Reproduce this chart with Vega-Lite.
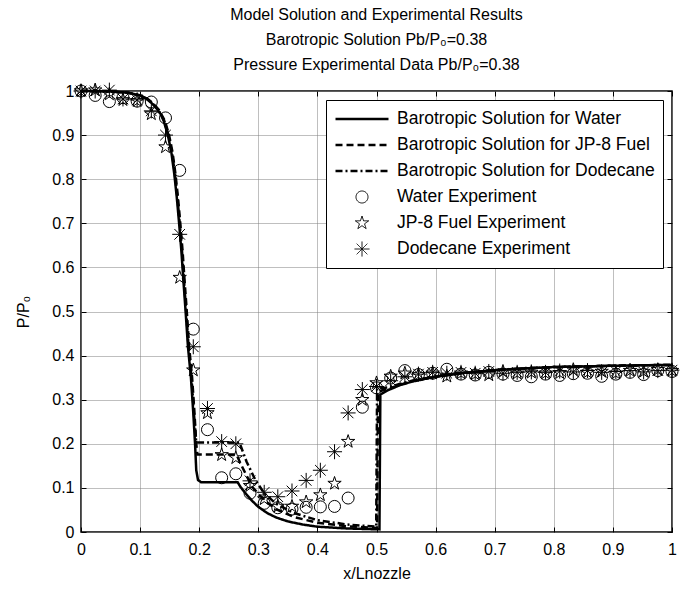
{
  "$schema": "https://vega.github.io/schema/vega-lite/v6.json",
  "width": 591,
  "height": 441,
  "autosize": {"type": "none"},
  "padding": {"left": 81, "top": 91, "right": 14, "bottom": 58},
  "background": "white",
  "title": {
    "text": ["Model Solution and Experimental Results", "Barotropic Solution Pb/P₀=0.38", "Pressure Experimental Data Pb/P₀=0.38"],
    "font": "Liberation Sans",
    "fontSize": 16,
    "fontWeight": "normal",
    "color": "black",
    "lineHeight": 25,
    "offset": 8,
    "anchor": "middle"
  },
  "datasets": {
    "model": [
      {"series": "Barotropic Solution for Water", "x": 0, "p": 1.0},
      {"series": "Barotropic Solution for Water", "x": 0.05, "p": 0.999},
      {"series": "Barotropic Solution for Water", "x": 0.08, "p": 0.996},
      {"series": "Barotropic Solution for Water", "x": 0.1, "p": 0.99},
      {"series": "Barotropic Solution for Water", "x": 0.11, "p": 0.983},
      {"series": "Barotropic Solution for Water", "x": 0.12, "p": 0.972},
      {"series": "Barotropic Solution for Water", "x": 0.13, "p": 0.957},
      {"series": "Barotropic Solution for Water", "x": 0.135, "p": 0.947},
      {"series": "Barotropic Solution for Water", "x": 0.14, "p": 0.932},
      {"series": "Barotropic Solution for Water", "x": 0.147, "p": 0.9},
      {"series": "Barotropic Solution for Water", "x": 0.153, "p": 0.86},
      {"series": "Barotropic Solution for Water", "x": 0.158, "p": 0.81},
      {"series": "Barotropic Solution for Water", "x": 0.162, "p": 0.76},
      {"series": "Barotropic Solution for Water", "x": 0.166, "p": 0.7},
      {"series": "Barotropic Solution for Water", "x": 0.17, "p": 0.635},
      {"series": "Barotropic Solution for Water", "x": 0.173, "p": 0.575},
      {"series": "Barotropic Solution for Water", "x": 0.177, "p": 0.5},
      {"series": "Barotropic Solution for Water", "x": 0.181, "p": 0.42},
      {"series": "Barotropic Solution for Water", "x": 0.186, "p": 0.35},
      {"series": "Barotropic Solution for Water", "x": 0.19, "p": 0.27},
      {"series": "Barotropic Solution for Water", "x": 0.193, "p": 0.2},
      {"series": "Barotropic Solution for Water", "x": 0.195, "p": 0.14},
      {"series": "Barotropic Solution for Water", "x": 0.198, "p": 0.118},
      {"series": "Barotropic Solution for Water", "x": 0.203, "p": 0.113},
      {"series": "Barotropic Solution for Water", "x": 0.265, "p": 0.113},
      {"series": "Barotropic Solution for Water", "x": 0.27, "p": 0.102},
      {"series": "Barotropic Solution for Water", "x": 0.28, "p": 0.085},
      {"series": "Barotropic Solution for Water", "x": 0.29, "p": 0.07},
      {"series": "Barotropic Solution for Water", "x": 0.3, "p": 0.057},
      {"series": "Barotropic Solution for Water", "x": 0.315, "p": 0.043},
      {"series": "Barotropic Solution for Water", "x": 0.33, "p": 0.033},
      {"series": "Barotropic Solution for Water", "x": 0.35, "p": 0.024},
      {"series": "Barotropic Solution for Water", "x": 0.375, "p": 0.017},
      {"series": "Barotropic Solution for Water", "x": 0.4, "p": 0.012},
      {"series": "Barotropic Solution for Water", "x": 0.45, "p": 0.008},
      {"series": "Barotropic Solution for Water", "x": 0.505, "p": 0.006},
      {"series": "Barotropic Solution for Water", "x": 0.5065, "p": 0.312},
      {"series": "Barotropic Solution for Water", "x": 0.52, "p": 0.322},
      {"series": "Barotropic Solution for Water", "x": 0.54, "p": 0.333},
      {"series": "Barotropic Solution for Water", "x": 0.56, "p": 0.341},
      {"series": "Barotropic Solution for Water", "x": 0.6, "p": 0.352},
      {"series": "Barotropic Solution for Water", "x": 0.65, "p": 0.361},
      {"series": "Barotropic Solution for Water", "x": 0.7, "p": 0.367},
      {"series": "Barotropic Solution for Water", "x": 0.75, "p": 0.371},
      {"series": "Barotropic Solution for Water", "x": 0.8, "p": 0.374},
      {"series": "Barotropic Solution for Water", "x": 0.9, "p": 0.377},
      {"series": "Barotropic Solution for Water", "x": 1.0, "p": 0.379},

      {"series": "Barotropic Solution for JP-8 Fuel", "x": 0, "p": 1.0},
      {"series": "Barotropic Solution for JP-8 Fuel", "x": 0.05, "p": 0.999},
      {"series": "Barotropic Solution for JP-8 Fuel", "x": 0.08, "p": 0.996},
      {"series": "Barotropic Solution for JP-8 Fuel", "x": 0.1, "p": 0.99},
      {"series": "Barotropic Solution for JP-8 Fuel", "x": 0.112, "p": 0.983},
      {"series": "Barotropic Solution for JP-8 Fuel", "x": 0.122, "p": 0.972},
      {"series": "Barotropic Solution for JP-8 Fuel", "x": 0.132, "p": 0.957},
      {"series": "Barotropic Solution for JP-8 Fuel", "x": 0.142, "p": 0.932},
      {"series": "Barotropic Solution for JP-8 Fuel", "x": 0.149, "p": 0.9},
      {"series": "Barotropic Solution for JP-8 Fuel", "x": 0.155, "p": 0.86},
      {"series": "Barotropic Solution for JP-8 Fuel", "x": 0.16, "p": 0.81},
      {"series": "Barotropic Solution for JP-8 Fuel", "x": 0.164, "p": 0.76},
      {"series": "Barotropic Solution for JP-8 Fuel", "x": 0.168, "p": 0.7},
      {"series": "Barotropic Solution for JP-8 Fuel", "x": 0.172, "p": 0.635},
      {"series": "Barotropic Solution for JP-8 Fuel", "x": 0.175, "p": 0.575},
      {"series": "Barotropic Solution for JP-8 Fuel", "x": 0.179, "p": 0.5},
      {"series": "Barotropic Solution for JP-8 Fuel", "x": 0.183, "p": 0.42},
      {"series": "Barotropic Solution for JP-8 Fuel", "x": 0.188, "p": 0.35},
      {"series": "Barotropic Solution for JP-8 Fuel", "x": 0.192, "p": 0.27},
      {"series": "Barotropic Solution for JP-8 Fuel", "x": 0.195, "p": 0.2},
      {"series": "Barotropic Solution for JP-8 Fuel", "x": 0.197, "p": 0.176},
      {"series": "Barotropic Solution for JP-8 Fuel", "x": 0.263, "p": 0.176},
      {"series": "Barotropic Solution for JP-8 Fuel", "x": 0.27, "p": 0.155},
      {"series": "Barotropic Solution for JP-8 Fuel", "x": 0.28, "p": 0.128},
      {"series": "Barotropic Solution for JP-8 Fuel", "x": 0.29, "p": 0.102},
      {"series": "Barotropic Solution for JP-8 Fuel", "x": 0.31, "p": 0.072},
      {"series": "Barotropic Solution for JP-8 Fuel", "x": 0.33, "p": 0.052},
      {"series": "Barotropic Solution for JP-8 Fuel", "x": 0.36, "p": 0.034},
      {"series": "Barotropic Solution for JP-8 Fuel", "x": 0.4, "p": 0.021},
      {"series": "Barotropic Solution for JP-8 Fuel", "x": 0.45, "p": 0.013},
      {"series": "Barotropic Solution for JP-8 Fuel", "x": 0.501, "p": 0.009},
      {"series": "Barotropic Solution for JP-8 Fuel", "x": 0.5025, "p": 0.318},
      {"series": "Barotropic Solution for JP-8 Fuel", "x": 0.52, "p": 0.325},
      {"series": "Barotropic Solution for JP-8 Fuel", "x": 0.54, "p": 0.334},
      {"series": "Barotropic Solution for JP-8 Fuel", "x": 0.56, "p": 0.342},
      {"series": "Barotropic Solution for JP-8 Fuel", "x": 0.6, "p": 0.352},
      {"series": "Barotropic Solution for JP-8 Fuel", "x": 0.65, "p": 0.361},
      {"series": "Barotropic Solution for JP-8 Fuel", "x": 0.7, "p": 0.367},
      {"series": "Barotropic Solution for JP-8 Fuel", "x": 0.75, "p": 0.371},
      {"series": "Barotropic Solution for JP-8 Fuel", "x": 0.8, "p": 0.374},
      {"series": "Barotropic Solution for JP-8 Fuel", "x": 0.9, "p": 0.377},
      {"series": "Barotropic Solution for JP-8 Fuel", "x": 1.0, "p": 0.379},

      {"series": "Barotropic Solution for Dodecane", "x": 0, "p": 1.0},
      {"series": "Barotropic Solution for Dodecane", "x": 0.05, "p": 0.999},
      {"series": "Barotropic Solution for Dodecane", "x": 0.08, "p": 0.996},
      {"series": "Barotropic Solution for Dodecane", "x": 0.1, "p": 0.99},
      {"series": "Barotropic Solution for Dodecane", "x": 0.111, "p": 0.983},
      {"series": "Barotropic Solution for Dodecane", "x": 0.121, "p": 0.972},
      {"series": "Barotropic Solution for Dodecane", "x": 0.131, "p": 0.957},
      {"series": "Barotropic Solution for Dodecane", "x": 0.141, "p": 0.932},
      {"series": "Barotropic Solution for Dodecane", "x": 0.148, "p": 0.9},
      {"series": "Barotropic Solution for Dodecane", "x": 0.154, "p": 0.86},
      {"series": "Barotropic Solution for Dodecane", "x": 0.159, "p": 0.81},
      {"series": "Barotropic Solution for Dodecane", "x": 0.163, "p": 0.76},
      {"series": "Barotropic Solution for Dodecane", "x": 0.167, "p": 0.7},
      {"series": "Barotropic Solution for Dodecane", "x": 0.171, "p": 0.635},
      {"series": "Barotropic Solution for Dodecane", "x": 0.174, "p": 0.575},
      {"series": "Barotropic Solution for Dodecane", "x": 0.178, "p": 0.5},
      {"series": "Barotropic Solution for Dodecane", "x": 0.182, "p": 0.42},
      {"series": "Barotropic Solution for Dodecane", "x": 0.187, "p": 0.35},
      {"series": "Barotropic Solution for Dodecane", "x": 0.191, "p": 0.27},
      {"series": "Barotropic Solution for Dodecane", "x": 0.195, "p": 0.203},
      {"series": "Barotropic Solution for Dodecane", "x": 0.268, "p": 0.203},
      {"series": "Barotropic Solution for Dodecane", "x": 0.28, "p": 0.16},
      {"series": "Barotropic Solution for Dodecane", "x": 0.295, "p": 0.118},
      {"series": "Barotropic Solution for Dodecane", "x": 0.31, "p": 0.088},
      {"series": "Barotropic Solution for Dodecane", "x": 0.33, "p": 0.064},
      {"series": "Barotropic Solution for Dodecane", "x": 0.36, "p": 0.043},
      {"series": "Barotropic Solution for Dodecane", "x": 0.4, "p": 0.027},
      {"series": "Barotropic Solution for Dodecane", "x": 0.45, "p": 0.017},
      {"series": "Barotropic Solution for Dodecane", "x": 0.4995, "p": 0.012},
      {"series": "Barotropic Solution for Dodecane", "x": 0.501, "p": 0.325},
      {"series": "Barotropic Solution for Dodecane", "x": 0.52, "p": 0.328},
      {"series": "Barotropic Solution for Dodecane", "x": 0.54, "p": 0.336},
      {"series": "Barotropic Solution for Dodecane", "x": 0.56, "p": 0.343},
      {"series": "Barotropic Solution for Dodecane", "x": 0.6, "p": 0.353},
      {"series": "Barotropic Solution for Dodecane", "x": 0.65, "p": 0.361},
      {"series": "Barotropic Solution for Dodecane", "x": 0.7, "p": 0.367},
      {"series": "Barotropic Solution for Dodecane", "x": 0.75, "p": 0.371},
      {"series": "Barotropic Solution for Dodecane", "x": 0.8, "p": 0.374},
      {"series": "Barotropic Solution for Dodecane", "x": 0.9, "p": 0.377},
      {"series": "Barotropic Solution for Dodecane", "x": 1.0, "p": 0.379}
    ],
    "experiment": [
      {"series": "Water Experiment", "x": 0, "p": 1.0},
      {"series": "Water Experiment", "x": 0.024, "p": 0.99},
      {"series": "Water Experiment", "x": 0.048, "p": 0.976},
      {"series": "Water Experiment", "x": 0.071, "p": 0.985},
      {"series": "Water Experiment", "x": 0.095, "p": 0.977},
      {"series": "Water Experiment", "x": 0.119, "p": 0.975},
      {"series": "Water Experiment", "x": 0.143, "p": 0.939},
      {"series": "Water Experiment", "x": 0.167, "p": 0.82},
      {"series": "Water Experiment", "x": 0.19, "p": 0.46},
      {"series": "Water Experiment", "x": 0.214, "p": 0.232},
      {"series": "Water Experiment", "x": 0.238, "p": 0.123},
      {"series": "Water Experiment", "x": 0.262, "p": 0.132},
      {"series": "Water Experiment", "x": 0.286, "p": 0.088},
      {"series": "Water Experiment", "x": 0.31, "p": 0.065},
      {"series": "Water Experiment", "x": 0.333, "p": 0.055},
      {"series": "Water Experiment", "x": 0.357, "p": 0.052},
      {"series": "Water Experiment", "x": 0.381, "p": 0.056},
      {"series": "Water Experiment", "x": 0.405, "p": 0.057},
      {"series": "Water Experiment", "x": 0.429, "p": 0.058},
      {"series": "Water Experiment", "x": 0.452, "p": 0.077},
      {"series": "Water Experiment", "x": 0.476, "p": 0.283},
      {"series": "Water Experiment", "x": 0.5, "p": 0.327},
      {"series": "Water Experiment", "x": 0.524, "p": 0.349},
      {"series": "Water Experiment", "x": 0.548, "p": 0.366},
      {"series": "Water Experiment", "x": 0.571, "p": 0.357},
      {"series": "Water Experiment", "x": 0.595, "p": 0.36},
      {"series": "Water Experiment", "x": 0.619, "p": 0.369},
      {"series": "Water Experiment", "x": 0.643, "p": 0.358},
      {"series": "Water Experiment", "x": 0.667, "p": 0.356},
      {"series": "Water Experiment", "x": 0.69, "p": 0.362},
      {"series": "Water Experiment", "x": 0.714, "p": 0.358},
      {"series": "Water Experiment", "x": 0.738, "p": 0.355},
      {"series": "Water Experiment", "x": 0.762, "p": 0.352},
      {"series": "Water Experiment", "x": 0.786, "p": 0.358},
      {"series": "Water Experiment", "x": 0.81, "p": 0.355},
      {"series": "Water Experiment", "x": 0.833, "p": 0.359},
      {"series": "Water Experiment", "x": 0.857, "p": 0.36},
      {"series": "Water Experiment", "x": 0.881, "p": 0.353},
      {"series": "Water Experiment", "x": 0.905, "p": 0.358},
      {"series": "Water Experiment", "x": 0.929, "p": 0.362},
      {"series": "Water Experiment", "x": 0.952, "p": 0.357},
      {"series": "Water Experiment", "x": 0.976, "p": 0.366},
      {"series": "Water Experiment", "x": 1.0, "p": 0.364},

      {"series": "JP-8 Fuel Experiment", "x": 0, "p": 1.0},
      {"series": "JP-8 Fuel Experiment", "x": 0.024, "p": 1.002},
      {"series": "JP-8 Fuel Experiment", "x": 0.048, "p": 0.993},
      {"series": "JP-8 Fuel Experiment", "x": 0.071, "p": 0.98},
      {"series": "JP-8 Fuel Experiment", "x": 0.095, "p": 0.978},
      {"series": "JP-8 Fuel Experiment", "x": 0.119, "p": 0.948},
      {"series": "JP-8 Fuel Experiment", "x": 0.143, "p": 0.873},
      {"series": "JP-8 Fuel Experiment", "x": 0.167, "p": 0.577},
      {"series": "JP-8 Fuel Experiment", "x": 0.19, "p": 0.367},
      {"series": "JP-8 Fuel Experiment", "x": 0.214, "p": 0.27},
      {"series": "JP-8 Fuel Experiment", "x": 0.238, "p": 0.175},
      {"series": "JP-8 Fuel Experiment", "x": 0.262, "p": 0.168},
      {"series": "JP-8 Fuel Experiment", "x": 0.286, "p": 0.105},
      {"series": "JP-8 Fuel Experiment", "x": 0.31, "p": 0.075},
      {"series": "JP-8 Fuel Experiment", "x": 0.333, "p": 0.058},
      {"series": "JP-8 Fuel Experiment", "x": 0.357, "p": 0.058},
      {"series": "JP-8 Fuel Experiment", "x": 0.381, "p": 0.068},
      {"series": "JP-8 Fuel Experiment", "x": 0.405, "p": 0.084},
      {"series": "JP-8 Fuel Experiment", "x": 0.429, "p": 0.11},
      {"series": "JP-8 Fuel Experiment", "x": 0.452, "p": 0.205},
      {"series": "JP-8 Fuel Experiment", "x": 0.476, "p": 0.3},
      {"series": "JP-8 Fuel Experiment", "x": 0.5, "p": 0.338},
      {"series": "JP-8 Fuel Experiment", "x": 0.524, "p": 0.353},
      {"series": "JP-8 Fuel Experiment", "x": 0.548, "p": 0.36},
      {"series": "JP-8 Fuel Experiment", "x": 0.571, "p": 0.357},
      {"series": "JP-8 Fuel Experiment", "x": 0.595, "p": 0.36},
      {"series": "JP-8 Fuel Experiment", "x": 0.619, "p": 0.353},
      {"series": "JP-8 Fuel Experiment", "x": 0.643, "p": 0.36},
      {"series": "JP-8 Fuel Experiment", "x": 0.667, "p": 0.358},
      {"series": "JP-8 Fuel Experiment", "x": 0.69, "p": 0.356},
      {"series": "JP-8 Fuel Experiment", "x": 0.714, "p": 0.364},
      {"series": "JP-8 Fuel Experiment", "x": 0.738, "p": 0.36},
      {"series": "JP-8 Fuel Experiment", "x": 0.762, "p": 0.362},
      {"series": "JP-8 Fuel Experiment", "x": 0.786, "p": 0.36},
      {"series": "JP-8 Fuel Experiment", "x": 0.81, "p": 0.361},
      {"series": "JP-8 Fuel Experiment", "x": 0.833, "p": 0.368},
      {"series": "JP-8 Fuel Experiment", "x": 0.857, "p": 0.362},
      {"series": "JP-8 Fuel Experiment", "x": 0.881, "p": 0.364},
      {"series": "JP-8 Fuel Experiment", "x": 0.905, "p": 0.36},
      {"series": "JP-8 Fuel Experiment", "x": 0.929, "p": 0.366},
      {"series": "JP-8 Fuel Experiment", "x": 0.952, "p": 0.364},
      {"series": "JP-8 Fuel Experiment", "x": 0.976, "p": 0.368},
      {"series": "JP-8 Fuel Experiment", "x": 1.0, "p": 0.366},

      {"series": "Dodecane Experiment", "x": 0, "p": 1.0},
      {"series": "Dodecane Experiment", "x": 0.024, "p": 1.0},
      {"series": "Dodecane Experiment", "x": 0.048, "p": 1.002},
      {"series": "Dodecane Experiment", "x": 0.071, "p": 0.982},
      {"series": "Dodecane Experiment", "x": 0.095, "p": 0.98},
      {"series": "Dodecane Experiment", "x": 0.119, "p": 0.955},
      {"series": "Dodecane Experiment", "x": 0.143, "p": 0.9},
      {"series": "Dodecane Experiment", "x": 0.167, "p": 0.675},
      {"series": "Dodecane Experiment", "x": 0.19, "p": 0.42},
      {"series": "Dodecane Experiment", "x": 0.214, "p": 0.28},
      {"series": "Dodecane Experiment", "x": 0.238, "p": 0.205},
      {"series": "Dodecane Experiment", "x": 0.262, "p": 0.2},
      {"series": "Dodecane Experiment", "x": 0.286, "p": 0.116},
      {"series": "Dodecane Experiment", "x": 0.31, "p": 0.09},
      {"series": "Dodecane Experiment", "x": 0.333, "p": 0.08},
      {"series": "Dodecane Experiment", "x": 0.357, "p": 0.093},
      {"series": "Dodecane Experiment", "x": 0.381, "p": 0.117},
      {"series": "Dodecane Experiment", "x": 0.405, "p": 0.14},
      {"series": "Dodecane Experiment", "x": 0.429, "p": 0.182},
      {"series": "Dodecane Experiment", "x": 0.452, "p": 0.27},
      {"series": "Dodecane Experiment", "x": 0.476, "p": 0.323},
      {"series": "Dodecane Experiment", "x": 0.5, "p": 0.33},
      {"series": "Dodecane Experiment", "x": 0.524, "p": 0.343},
      {"series": "Dodecane Experiment", "x": 0.548, "p": 0.352},
      {"series": "Dodecane Experiment", "x": 0.571, "p": 0.358},
      {"series": "Dodecane Experiment", "x": 0.595, "p": 0.362},
      {"series": "Dodecane Experiment", "x": 0.619, "p": 0.36},
      {"series": "Dodecane Experiment", "x": 0.643, "p": 0.362},
      {"series": "Dodecane Experiment", "x": 0.667, "p": 0.36},
      {"series": "Dodecane Experiment", "x": 0.69, "p": 0.364},
      {"series": "Dodecane Experiment", "x": 0.714, "p": 0.36},
      {"series": "Dodecane Experiment", "x": 0.738, "p": 0.362},
      {"series": "Dodecane Experiment", "x": 0.762, "p": 0.363},
      {"series": "Dodecane Experiment", "x": 0.786, "p": 0.362},
      {"series": "Dodecane Experiment", "x": 0.81, "p": 0.365},
      {"series": "Dodecane Experiment", "x": 0.833, "p": 0.363},
      {"series": "Dodecane Experiment", "x": 0.857, "p": 0.366},
      {"series": "Dodecane Experiment", "x": 0.881, "p": 0.362},
      {"series": "Dodecane Experiment", "x": 0.905, "p": 0.364},
      {"series": "Dodecane Experiment", "x": 0.929, "p": 0.366},
      {"series": "Dodecane Experiment", "x": 0.952, "p": 0.363},
      {"series": "Dodecane Experiment", "x": 0.976, "p": 0.366},
      {"series": "Dodecane Experiment", "x": 1.0, "p": 0.367}
    ]
  },
  "encoding": {
    "x": {
      "field": "x", "type": "quantitative",
      "scale": {"domain": [0, 1], "nice": false, "zero": false},
      "axis": {
        "title": "x/Lnozzle", "titlePadding": 8, "labelPadding": 14,
        "values": [0, 0.1, 0.2, 0.3, 0.4, 0.5, 0.6, 0.7, 0.8, 0.9, 1]
      }
    },
    "y": {
      "field": "p", "type": "quantitative",
      "scale": {"domain": [0, 1], "nice": false, "zero": false},
      "axis": {
        "title": "P/P₀", "titlePadding": 20, "labelPadding": 12,
        "values": [0, 0.1, 0.2, 0.3, 0.4, 0.5, 0.6, 0.7, 0.8, 0.9, 1]
      }
    }
  },
  "layer": [
    {
      "data": {"name": "model"},
      "mark": {"type": "line", "color": "#000000", "opacity": 1, "strokeWidth": 2.5, "strokeCap": "butt"},
      "encoding": {
        "strokeDash": {
          "field": "series", "type": "nominal",
          "scale": {
            "domain": ["Barotropic Solution for Water", "Barotropic Solution for JP-8 Fuel", "Barotropic Solution for Dodecane", "Water Experiment", "JP-8 Fuel Experiment", "Dodecane Experiment"],
            "range": [[1, 0], [7, 4], [7, 3, 2, 3], [1, 0], [1, 0], [1, 0]]
          },
          "legend": {"title": null}
        }
      }
    },
    {
      "data": {"name": "experiment"},
      "mark": {"type": "point", "filled": false, "color": "#000000", "opacity": 1},
      "encoding": {
        "x": {
          "field": "x", "type": "quantitative",
          "axis": {
            "orient": "top", "title": null, "labels": false, "grid": false,
            "values": [0, 0.1, 0.2, 0.3, 0.4, 0.5, 0.6, 0.7, 0.8, 0.9, 1]
          }
        },
        "y": {
          "field": "p", "type": "quantitative",
          "axis": {
            "orient": "right", "title": null, "labels": false, "grid": false,
            "values": [0, 0.1, 0.2, 0.3, 0.4, 0.5, 0.6, 0.7, 0.8, 0.9, 1]
          }
        },
        "shape": {
          "field": "series", "type": "nominal",
          "scale": {
            "domain": ["Barotropic Solution for Water", "Barotropic Solution for JP-8 Fuel", "Barotropic Solution for Dodecane", "Water Experiment", "JP-8 Fuel Experiment", "Dodecane Experiment"],
            "range": ["stroke", "stroke", "stroke", "circle", "M0,-1L0.225,-0.309L0.951,-0.309L0.363,0.118L0.588,0.809L0,0.382L-0.588,0.809L-0.363,0.118L-0.951,-0.309L-0.225,-0.309Z", "M-1,0L1,0M0,-1L0,1M-0.707,-0.707L0.707,0.707M-0.707,0.707L0.707,-0.707"]
          },
          "legend": {"title": null}
        },
        "size": {
          "field": "series", "type": "nominal",
          "scale": {
            "type": "ordinal",
            "domain": ["Barotropic Solution for Water", "Barotropic Solution for JP-8 Fuel", "Barotropic Solution for Dodecane", "Water Experiment", "JP-8 Fuel Experiment", "Dodecane Experiment"],
            "range": [2809, 2809, 2809, 144, 196, 225]
          },
          "legend": {"title": null}
        },
        "strokeWidth": {
          "field": "series", "type": "nominal",
          "scale": {
            "type": "ordinal",
            "domain": ["Barotropic Solution for Water", "Barotropic Solution for JP-8 Fuel", "Barotropic Solution for Dodecane", "Water Experiment", "JP-8 Fuel Experiment", "Dodecane Experiment"],
            "range": [2.5, 2.5, 2.5, 1, 1, 1]
          },
          "legend": {"title": null}
        }
      }
    }
  ],
  "resolve": {"axis": {"x": "independent", "y": "independent"}},
  "config": {
    "font": "Liberation Sans",
    "view": {"stroke": "#000000", "strokeWidth": 1.5},
    "axis": {
      "labelFont": "Liberation Sans",
      "labelFontSize": 16,
      "labelColor": "#000000",
      "titleFont": "Liberation Sans",
      "titleFontSize": 16,
      "titleFontWeight": "normal",
      "titleColor": "#000000",
      "grid": true,
      "gridColor": "#7f7f7f",
      "gridDash": [1, 1],
      "gridWidth": 1,
      "domain": false,
      "ticks": true,
      "tickColor": "#000000",
      "tickSize": -5,
      "format": "~g",
      "labelFlush": false,
      "labelOverlap": false
    },
    "legend": {
      "orient": "top-right",
      "offset": 9,
      "padding": 8,
      "fillColor": "#ffffff",
      "strokeColor": "#000000",
      "labelFont": "Liberation Sans",
      "labelFontSize": 17.5,
      "labelColor": "#000000",
      "labelLimit": 400,
      "labelOffset": 7,
      "clipHeight": 22,
      "rowPadding": 4,
      "symbolStrokeColor": "#000000",
      "symbolFillColor": "transparent"
    }
  }
}
